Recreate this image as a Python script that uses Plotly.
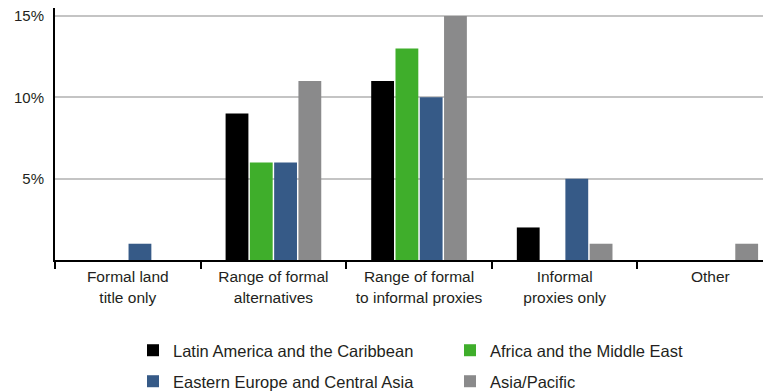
import plotly.graph_objects as go

categories = ["Formal land<br>title only", "Range of formal<br>alternatives",
              "Range of formal<br>to informal proxies", "Informal<br>proxies only", "Other"]
latin_america = [0, 9, 11, 2, 0]
africa_middle_east = [0, 6, 13, 0, 0]
eastern_europe = [1, 6, 10, 5, 0]
asia_pacific = [0, 11, 15, 1, 1]
y_ticks = [5, 10, 15]
y_tick_labels = ["5%", "10%", "15%"]

series = [
    ("Latin America and the Caribbean", latin_america, "#000000", "legend"),
    ("Africa and the Middle East", africa_middle_east, "#3fae2b", "legend"),
    ("Eastern Europe and Central Asia", eastern_europe, "#365a87", "legend2"),
    ("Asia/Pacific", asia_pacific, "#8a8a8b", "legend2"),
]

fig = go.Figure()
for name, vals, color, lg in series:
    fig.add_trace(go.Bar(x=categories, y=vals, name=name, marker_color=color,
                         marker_line_width=0, legend=lg))

family = "Liberation Sans, Arial, sans-serif"
txt = "#231f20"
xfont = dict(family=family, size=15.5, color=txt)
yfont = dict(family=family, size=15, color=txt)
lfont = dict(family=family, size=16.5, color=txt)
fig.update_layout(
    width=771, height=391,
    margin=dict(l=47, r=0, t=0, b=139),
    paper_bgcolor="white", plot_bgcolor="white",
    barmode="group", bargap=0.333, bargroupgap=0.06,
    font=yfont,
    legend=dict(orientation="h", xref="container", yref="container",
                x=125/771, y=1-325/391, xanchor="left", yanchor="top",
                entrywidth=272, font=lfont, bgcolor="rgba(0,0,0,0)"),
    legend2=dict(orientation="h", xref="container", yref="container",
                 x=125/771, y=1-356/391, xanchor="left", yanchor="top",
                 entrywidth=272, font=lfont, bgcolor="rgba(0,0,0,0)"),
)
fig.update_xaxes(
    range=[-0.5, 4.472], showline=True, linecolor="#000000", linewidth=1.5,
    ticks="outside", tickson="boundaries", ticklen=7, tickcolor="#000000", tickwidth=1.5,
    showgrid=False, tickfont=xfont, automargin=False, ticklabelstandoff=2,
)
fig.update_yaxes(
    range=[0, 15.49], tickvals=y_ticks, ticktext=y_tick_labels,
    showline=True, linecolor="#000000", linewidth=2,
    showgrid=True, gridcolor="#c4c4c4", gridwidth=1.5, zeroline=False,
    ticks="", ticklabelstandoff=6, tickfont=yfont, automargin=False,
    ticklabeloverflow="allow",
)
fig.write_html("out.html")
